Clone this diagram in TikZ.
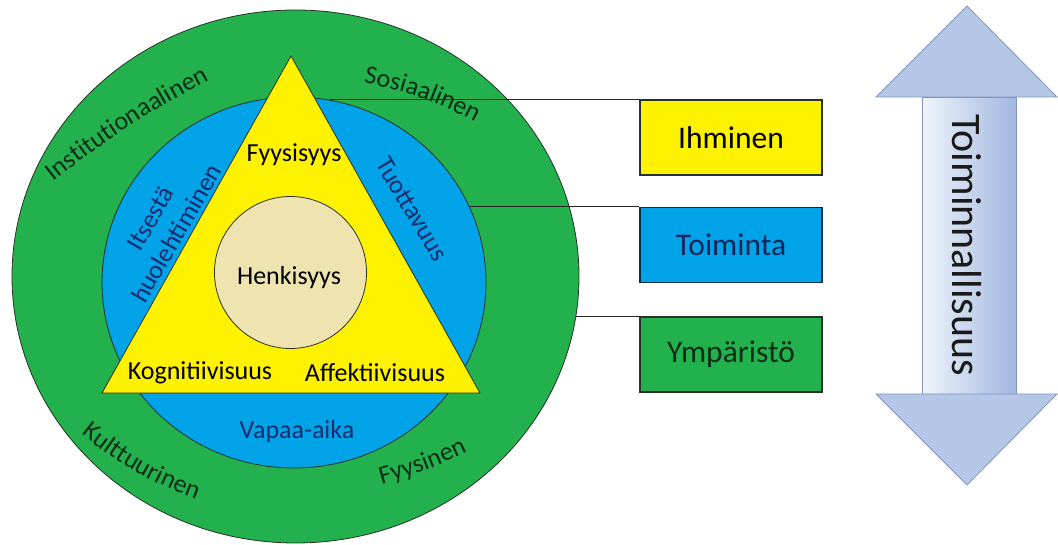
\documentclass[tikz,border=0pt]{standalone}
\usepackage{fontspec}
\setmainfont{Carlito}
\usepackage{tikz}
\usetikzlibrary{shapes, arrows.meta, positioning, calc, decorations.text}

\definecolor{envgreen}{RGB}{34, 177, 76}
\definecolor{actblue}{RGB}{0, 162, 232}
\definecolor{humyellow}{RGB}{255, 242, 0}
\definecolor{spiritbg}{RGB}{239, 228, 176}
\definecolor{ringtext}{RGB}{15, 45, 25}
\definecolor{bluetext}{RGB}{25, 45, 110}
\definecolor{edgegray}{RGB}{40, 50, 40}
\definecolor{arrowfill}{RGB}{180, 199, 231}
\definecolor{arrowline}{RGB}{130, 150, 190}
\definecolor{arrowlite}{RGB}{240, 244, 251}
\definecolor{arrowdark}{RGB}{160, 183, 224}

\begin{document}
\begin{tikzpicture}[x=1pt, y=1pt,
  lbl/.style={font=\fontsize{26}{30}\selectfont, inner sep=0pt},
  box/.style={draw=edgegray, line width=1.3pt, minimum width=182pt, minimum height=75pt, font=\fontsize{31.5}{36}\selectfont},
  link/.style={draw=black!85, line width=1pt},
  ring/.style={decorate, decoration={text along path, text align=center, text color=ringtext,
    text={|\fontsize{26}{30}\selectfont|#1}}}]
  \useasboundingbox (0,0) rectangle (1058,544);

  % Rings
  \node[ellipse, draw=edgegray, line width=0.8pt, fill=envgreen, minimum width=567pt, minimum height=533pt, inner sep=0pt] (envring) at (295.5,267.5) {};
  \node[ellipse, draw=edgegray, line width=0.8pt, fill=actblue, minimum width=384pt, minimum height=371pt, inner sep=0pt] (actring) at (294,261.5) {};

  % Person triangle
  \coordinate (apex) at (291,488);
  \coordinate (baseL) at (102,151);
  \coordinate (baseR) at (480,151);
  \draw[edgegray, line width=0.8pt, fill=humyellow] (apex) -- (baseL) -- (baseR) -- cycle;
  \node[circle, draw=edgegray, line width=0.8pt, fill=spiritbg, minimum size=152pt, inner sep=0pt] (spirit) at (290.5,271.5) {};

  % Legend boxes
  \node[box, fill=humyellow] (ihm) at (731,406.5) {Ihminen};
  \node[box, fill=actblue, draw=black!70!actblue, text=bluetext!80!black] (toi) at (731,299) {Toiminta};
  \node[box, fill=envgreen, text=ringtext] (ymp) at (731,189.5) {Ympäristö};

  \draw[link] (ihm.north west) -- (ihm.north west -| actring.79);
  \draw[link] (toi.north west) -- (toi.north west -| actring.23);
  \draw[link] (ymp.north west) -- (ymp.north west -| envring.-8);

  % Labels
  \node[lbl] (fyys) at (294,389) {Fyysisyys};
  \node[lbl] (henk) at (289,266) {Henkisyys};
  \node[lbl] (kogn) at (200,171) {Kognitiivisuus};
  \node[lbl] (affe) at (375,171) {Affektiivisuus};
  \node[lbl, text=bluetext] (vapaa) at (297,112) {Vapaa-aika};
  \node[lbl, text=bluetext, rotate=-59] (tuot) at (412,335) {Tuottavuus};
  \node[lbl, text=bluetext, rotate=60, align=center] (itse) at (163.5,318) {Itsestä\\huolehtiminen};

  \path[ring=Institutionaalinen] (38,350) to[bend left=6] (227,473);
  \path[ring=Sosiaalinen] (348,464) to[bend left=10] (489,414);
  \path[ring=Kulttuurinen] (70,119.4) to[bend right=10] (210,39.6);
  \path[ring=Fyysinen] (366,55.7) to[bend right=6] (482,99.3);

  % Functionality arrow
  \draw[arrowline, line width=0.8pt, left color=arrowlite, right color=arrowdark] (922,150) rectangle (1016,447);
  \draw[arrowline, line width=0.8pt, fill=arrowfill] (967,538) -- (1057,447) -- (876,447) -- cycle;
  \draw[arrowline, line width=0.8pt, fill=arrowfill] (876,150) -- (1057,150) -- (967,59) -- cycle;
  \node[font=\fontsize{42}{48}\selectfont, rotate=-90, text=black!90] (func) at (967,299) {Toiminnallisuus};
\end{tikzpicture}
\end{document}
